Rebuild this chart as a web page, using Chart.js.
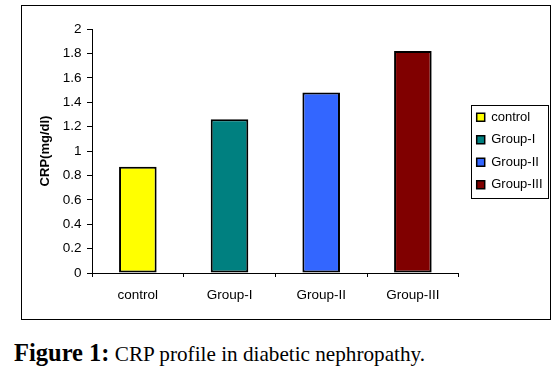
<!DOCTYPE html>
<html>
<head>
<meta charset="utf-8">
<title>CRP profile</title>
<script src="https://cdn.jsdelivr.net/npm/chart.js@4.4.1/dist/chart.umd.min.js"></script>
<style>
  html, body { margin: 0; padding: 0; background: #fff; }
  body { width: 559px; height: 376px; position: relative; overflow: hidden; }
  .chart__frame { position: absolute; left: 21px; top: 5px; width: 528px; height: 313px; border: 1px solid #000; }
  .chart__frame canvas { display: block; }
  .caption { position: absolute; left: 14px; top: 340px; line-height: 26px; font-size: 21.2px;
             font-family: "Liberation Serif", "Times New Roman", serif; color: #000; white-space: nowrap; }
  .caption b { font-size: 24.5px; }
</style>
</head>
<body>
<div class="chart__frame"><canvas id="myChart" width="528" height="313"></canvas></div>
<div class="caption"><b>Figure 1:</b> CRP profile in diabetic nephropathy.</div>
<script>
// данные
const groups = ["control", "Group-I", "Group-II", "Group-III"];
const crpValues = [0.87, 1.26, 1.48, 1.82];
const barColors = ["#ffff00", "#008080", "#3366ff", "#800000"];
const yTickLabels = ["0", "0.2", "0.4", "0.6", "0.8", "1", "1.2", "1.4", "1.6", "1.8", "2"];

Chart.defaults.font.family = "'Liberation Sans', Arial, sans-serif";
Chart.defaults.color = "#000";

// рамка вокруг легенды + отступ от оси
const legendFrame = {
  id: "legendFrame",
  afterLayout(chart) {
    chart.legend.left = chart.chartArea.right + 8.5;
  },
  afterDraw(chart) {
    const boxes = chart.legend.legendHitBoxes;
    if (!boxes || !boxes.length) return;
    const first = boxes[0];
    const last = boxes[boxes.length - 1];
    const w = Math.max(...boxes.map((b) => b.width));
    const ctx = chart.ctx;
    ctx.save();
    ctx.strokeStyle = "#000";
    ctx.lineWidth = 1;
    ctx.strokeRect(
      Math.round(first.left - 6) + 0.5,
      Math.round(first.top - 6) + 0.5,
      Math.round(w + 11),
      Math.round(last.top + last.height - first.top + 12)
    );
    ctx.restore();
  },
};

const data = {
  labels: groups,
  datasets: [
    {
      label: "CRP",
      data: crpValues,
      backgroundColor: barColors,
      borderColor: "#000",
      borderWidth: 2,
      borderSkipped: false,
      barPercentage: 0.41,
      categoryPercentage: 1,
    },
  ],
};

const config = {
  type: "bar",
  data,
  options: {
    responsive: false,
    animation: false,
    events: [],
    layout: { padding: { top: 23, right: 6, bottom: 0, left: 0 } },
    scales: {
      x: {
        grid: { drawOnChartArea: false, color: "#000", tickLength: 4, offset: true },
        border: { color: "#000" },
        ticks: { color: "#000", padding: 10, font: { size: 13.5 } },
        afterFit(scale) {
          scale.height = 46;
        },
      },
      y: {
        min: 0,
        max: 2,
        ticks: {
          stepSize: 0.2,
          color: "#000",
          padding: 5.5,
          font: { size: 13.5 },
          callback: (v, i) => yTickLabels[i],
        },
        grid: { drawOnChartArea: false, color: "#000", tickLength: 5 },
        border: { color: "#000" },
        title: {
          display: true,
          text: "CRP(mg/dl)",
          color: "#000",
          font: { size: 13, weight: "bold" },
          padding: { top: 16, bottom: 0 },
        },
        afterFit(scale) {
          scale.width = 70;
        },
      },
    },
    plugins: {
      tooltip: { enabled: false },
      legend: {
        position: "right",
        fullSize: false,
        labels: {
          boxWidth: 8,
          boxHeight: 8,
          padding: 9.5,
          color: "#000",
          font: { size: 13 },
          generateLabels: () =>
            groups.map((g, i) => ({
              text: g,
              fillStyle: barColors[i],
              strokeStyle: "#000",
              lineWidth: 1.5,
              hidden: false,
              index: i,
            })),
        },
      },
    },
  },
  plugins: [legendFrame],
};

const myChart = new Chart(document.getElementById("myChart"), config);
</script>
</body>
</html>
